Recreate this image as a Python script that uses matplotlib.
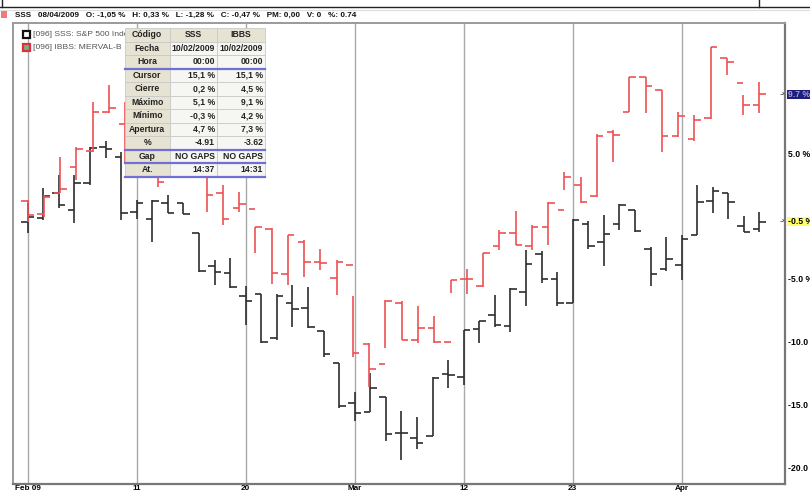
import numpy as np
import matplotlib
matplotlib.use('Agg')
import matplotlib.pyplot as plt
import matplotlib.transforms as mtransforms
from matplotlib import font_manager
from matplotlib.patches import Rectangle

#------------------------------------------#
# Data (percent change vs. base, OHLC)
#------------------------------------------#

# S&P 500 (SSS), one bar per session
sss_open = [-0.5, -0.15, 1.85, 0.5, 2.6, 5.5, 4.7, 0.3, -0.25, 1.05, 1.0, -1.35,
            -3.95, -4.55, -6.4, -6.2, -9.7, -6.9, -7.3, -9.2, -11.7, -14.9, -15.6, -14.4,
            -17.3, -17.7, -17.5, -12.6, -12.8, -9.0, -7.9, -8.75, -6.05, -3.0, -5.0, -6.9,
            -0.6, -2.1, -0.6, 0.45, -2.6, -4.2, -3.9, -1.5, 1.2, 1.8, -0.8, -1.05]
sss_high = [1.0, 2.2, 3.3, 3.3, 5.5, 6.0, 5.1, 1.3, 1.3, 1.65, 1.05, -1.35,
            -3.5, -3.35, -5.6, -6.2, -6.2, -5.5, -5.65, -9.2, -11.7, -14.0, -12.5, -14.4,
            -15.5, -16.0, -12.8, -11.5, -9.1, -8.4, -6.3, -5.75, -2.7, -2.75, -4.5, -0.2,
            -0.4, 0.1, 0.95, 0.5, -2.5, -1.7, -1.5, 2.5, 2.3, 1.8, 0.0, 0.33]
sss_low = [-1.35, -0.3, 0.65, -0.55, 2.5, 4.6, -0.3, -0.2, -2.05, 0.2, 0.15, -4.45,
           -5.5, -5.7, -8.7, -10.1, -9.9, -8.85, -8.9, -11.2, -15.3, -16.3, -15.6, -17.9,
           -19.4, -18.6, -17.5, -13.7, -13.5, -10.1, -8.85, -9.25, -7.2, -5.3, -7.15, -6.95,
           -2.6, -4.0, -1.1, -1.3, -5.6, -4.4, -5.1, -1.5, 0.2, -0.2, -1.3, -1.28]
sss_close = [-0.1, 1.6, 0.85, 2.65, 5.4, 5.3, 0.2, 1.0, 1.2, 0.2, 0.15, -4.4,
             -4.5, -5.65, -6.75, -10.0, -6.4, -7.4, -8.85, -11.0, -15.1, -15.7, -13.7, -17.35,
             -17.25, -18.1, -12.9, -12.7, -9.1, -8.4, -8.7, -5.8, -3.8, -5.05, -6.95, -0.35,
             -2.4, -1.45, 0.85, -1.2, -4.65, -3.4, -1.8, 1.1, 2.0, 1.15, -1.25, -0.47]

# MERVAL (IBBS), fewer sessions spread over the same span
ibbs_open = [1.2, 0.15, 1.8, 3.9, 5.2, 8.3, 7.3, 4.5, 5.0, 3.2, 4.2, 3.4,
             1.8, 0.6, 0.55, -1.0, -4.65, -2.05, -3.65, -4.9, -3.9, -10.2, -11.8, -6.9,
             -9.85, -8.9, -10.0, -5.05, -5.6, -2.37, -1.33, -2.35, -0.85, 0.48, 2.47, 1.6,
             6.7, 8.3, 11.05, 10.04, 6.37, 6.1, 7.78, 12.56, 10.57, 8.84]
ibbs_high = [1.3, 1.7, 4.7, 5.5, 9.1, 10.4, 9.1, 6.0, 5.8, 4.8, 4.6, 3.6,
             2.5, 1.9, -0.85, -0.95, -1.5, -1.9, -2.6, -3.5, -6.4, -10.1, -6.7, -6.8,
             -7.2, -8.0, -5.1, -4.2, -2.95, -1.1, 0.42, -0.7, 1.15, 3.53, 3.13, 6.5,
             6.85, 11.1, 11.1, 10.05, 8.3, 8.05, 13.5, 12.6, 9.64, 10.7]
ibbs_low = [-0.5, -0.1, 1.8, 2.9, 5.1, 8.2, 4.2, 3.8, 2.3, 3.1, 3.2, 0.35,
            -0.7, 0.3, -2.95, -5.4, -5.5, -4.85, -4.3, -6.3, -11.2, -13.6, -10.5, -9.9,
            -10.1, -10.15, -6.15, -6.2, -5.65, -2.7, -2.3, -2.7, -2.3, 2.07, 1.0, 1.5,
            4.3, 8.3, 8.2, 5.1, 6.3, 6.0, 7.7, 11.2, 8.05, 8.2]
ibbs_close = [0.1, 1.5, 2.15, 5.3, 8.3, 8.6, 4.5, 5.2, 2.7, 4.3, 3.5, 1.7,
              -0.25, 0.95, -0.85, -4.55, -1.5, -3.65, -3.75, -3.65, -10.95, -12.2, -6.8, -9.85,
              -8.9, -10.0, -5.1, -5.05, -2.97, -1.33, -2.3, -0.85, 1.0, 3.13, 1.14, 6.4,
              6.45, 11.1, 10.36, 6.37, 7.97, 7.65, 13.44, 12.3, 8.84, 9.7]

tick_idx = [0, 7, 14, 21, 28, 35, 42]
tick_labels = ['Feb 09', '11', '20', 'Mar', '12', '23', 'Apr']
y_ticks = [-20, -15, -10, -5, 5]   # 0 y 10 quedan tapados por los marcadores

header = "SSS   08/04/2009   O: -1,05 %   H: 0,33 %   L: -1,28 %   C: -0,47 %   PM: 0,00   V: 0   %: 0.74"
legend_items = ["[096] SSS: S&P 500 Index", "[096] IBBS: MERVAL-B"]

tab_labels = ['Código', 'Fecha', 'Hora', 'Cursor', 'Cierre', 'Máximo', 'Mínimo',
              'Apertura', '%', 'Gap', 'At.']
tab_sss = ['SSS', '10/02/2009', '00:00', '15,1 %', '0,2 %', '5,1 %', '-0,3 %',
           '4,7 %', '-4.91', 'NO GAPS', '14:37']
tab_ibbs = ['IBBS', '10/02/2009', '00:00', '15,1 %', '4,5 %', '9,1 %', '4,2 %',
            '7,3 %', '-3.62', 'NO GAPS', '14:31']

#------------------------------------------#

names = {f.name for f in font_manager.fontManager.ttflist}
NARROW = 'Liberation Sans Narrow' if 'Liberation Sans Narrow' in names else 'Liberation Sans'
plt.rcParams['font.family'] = [NARROW, 'DejaVu Sans']
plt.rcParams['font.weight'] = 'bold'
FS = 6.2

BLACK = '#2e2e2e'
RED = '#ee5054'


def draw_ohlc(ax, x, o, h, l, c, color, w=0.42):
    """Barras OHLC: vertical bajo-alto, tick izq apertura, tick der cierre"""
    x = np.asarray(x, dtype=float)
    ax.vlines(x, l, h, color=color, lw=1.2, zorder=3)
    ax.hlines(o, x - w, x, color=color, lw=1.2, zorder=3)
    ax.hlines(c, x, x + w, color=color, lw=1.2, zorder=3)


fig = plt.figure(figsize=(8.1, 4.92), dpi=100)
W, H = 810.0, 492.0
ax = fig.add_axes([12.5 / W, 8 / H, 773 / W, 461.3 / H])

n = len(sss_close)
x_sss = np.arange(n)
x_ibbs = np.linspace(0, n - 1, len(ibbs_close))

draw_ohlc(ax, x_sss, sss_open, sss_high, sss_low, sss_close, BLACK)
draw_ohlc(ax, x_ibbs, ibbs_open, ibbs_high, ibbs_low, ibbs_close, RED)

ax.set_xlim(-0.976, 48.67)
ax.set_ylim(-21.35, 15.4)
ax.set_xticks(tick_idx)
ax.set_xticklabels(tick_labels, fontsize=5.9, fontweight='bold')
ax.grid(axis='x', color='#a9a9a9', lw=1.0, zorder=1)
ax.tick_params(axis='x', length=0, pad=0.9)

ax.yaxis.tick_right()
ax.set_yticks(y_ticks)
ax.set_yticklabels(['{:.1f} %'.format(v) for v in y_ticks], fontsize=FS, fontweight='bold')
ax.tick_params(axis='y', length=0, pad=1.5)

for side in ['left', 'top']:
    ax.spines[side].set_color('#9a9a9a')
    ax.spines[side].set_linewidth(1.4)
for side in ['right', 'bottom']:
    ax.spines[side].set_color('#777777')
    ax.spines[side].set_linewidth(1.6)

# marcadores de ultimo precio a la derecha
blend = mtransforms.blended_transform_factory(ax.transAxes, ax.transData)
for val, fc, tc in [(ibbs_close[-1], '#1f1f7a', '#a0a0e8'), (sss_close[-1], '#ffff6a', 'black')]:
    ax.add_patch(Rectangle((1.0015, val - 0.36), 0.05, 0.72, transform=blend,
                           facecolor=fc, edgecolor='none', clip_on=False, zorder=6))
    ax.text(1.003, val, '{:.1f} %'.format(val), transform=blend, fontsize=FS,
            fontweight='bold', color=tc, va='center', ha='left', zorder=7, clip_on=False)
    ax.text(0.999, val, '-›', transform=blend, fontsize=6, color='#555555',
            va='center', ha='right', zorder=7)

#------------------------------------------#
# Capa de pixeles: cabecera, leyenda, tabla
#------------------------------------------#
ov = fig.add_axes([0, 0, 1, 1], zorder=10)
ov.set_xlim(0, W)
ov.set_ylim(H, 0)
ov.axis('off')

ov.plot([0, W], [7, 7], color='#222222', lw=1.0)
ov.plot([2, 2], [0, 7], color='#222222', lw=1.0)
ov.plot([759, 759], [0, 7], color='#222222', lw=1.0)
ov.plot([0, W], [9.5, 9.5], color='#dddddd', lw=0.8)
ov.add_patch(Rectangle((1, 11), 6, 7, facecolor='#f07a7a', edgecolor='none'))
ov.text(15, 15, header, fontsize=5.9, fontweight='bold', color='#111111', va='center', ha='left')

x0, x1, x2, x3 = 124.5, 170, 217, 265
top, rh = 28, 13.5

icon_styles = [('#111111', 'white'), ('#e03030', '#6fae9a')]
clip = mtransforms.TransformedBbox(mtransforms.Bbox([[20, 20], [x0, 60]]), ov.transData)
for k, (txt, (ec, fc)) in enumerate(zip(legend_items, icon_styles)):
    yy = 34.5 + 13 * k
    ov.add_patch(Rectangle((23, yy - 3.5), 6.5, 7, facecolor=fc, edgecolor=ec, lw=1.6, zorder=2))
    t = ov.text(33, yy, txt, fontsize=6.1, fontweight='normal', color='#555555',
                va='center', ha='left', zorder=2)
    t.set_clip_box(clip)
    t.set_clip_on(True)

# tabla de datos del cursor
for r, (lab, v1, v2) in enumerate(zip(tab_labels, tab_sss, tab_ibbs)):
    y = top + r * rh
    head = r == 0
    ov.add_patch(Rectangle((x0, y), x1 - x0, rh, facecolor='#e7e3d2', edgecolor='#c9c9c9', lw=0.6, zorder=5))
    for xa, xb in [(x1, x2), (x2, x3)]:
        ov.add_patch(Rectangle((xa, y), xb - xa, rh, facecolor='#e7e3d2' if head else '#f6f6f3',
                               edgecolor='#c9c9c9', lw=0.6, zorder=5))
    yc = y + rh / 2
    ov.text((x0 + x1) / 2, yc, lab, fontsize=FS, fontweight='bold', color='#222222',
            ha='center', va='center', zorder=6)
    if head:
        ov.text((x1 + x2) / 2, yc, v1, fontsize=FS, fontweight='bold', color='#222222',
                ha='center', va='center', zorder=6)
        ov.text((x2 + x3) / 2, yc, v2, fontsize=FS, fontweight='bold', color='#222222',
                ha='center', va='center', zorder=6)
    else:
        ov.text(x2 - 2, yc, v1, fontsize=FS, fontweight='bold', color='#222222',
                ha='right', va='center', zorder=6)
        ov.text(x3 - 2, yc, v2, fontsize=FS, fontweight='bold', color='#222222',
                ha='right', va='center', zorder=6)

for r in [3, 9, 10, 11]:
    ov.plot([x0, x3], [top + r * rh, top + r * rh], color='#6f6fd6', lw=1.6, zorder=7)

fig.savefig('out.png', dpi=100)
